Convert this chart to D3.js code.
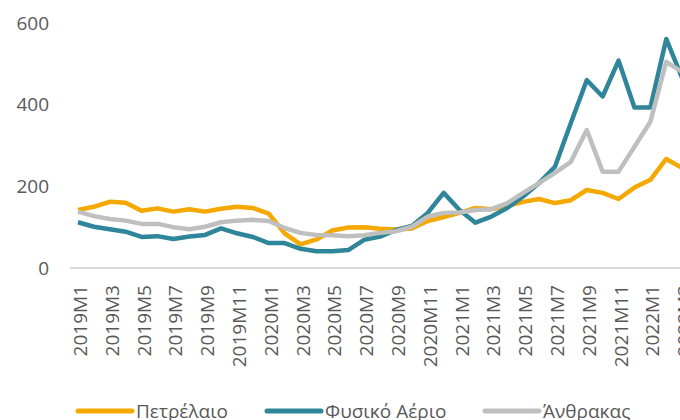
<html>
<head>
    <script src="https://d3js.org/d3.v7.min.js"></script>
    <style>
        html,body{
            margin: 0px;
            padding: 0px;
            background-color: #ffffff;
        }
        svg { display: block; }
        text {
            font-family: "Open Sans", sans-serif;
            fill: #595959;
        }
    </style>
</head>
<body>
    <div id="chart"></div>
    <script>
        // monthly periods 2019M1 .. 2022M3
        const months = [];
        for (let y = 2019; y <= 2022; y++) {
            for (let m = 1; m <= 12; m++) {
                if (y === 2022 && m > 3) break;
                months.push(y + "M" + m);
            }
        }
        const yTicks = [0, 200, 400, 600];

        const oil = [142, 150, 162, 160, 140, 146, 138, 144, 138, 145, 150, 147,
                     133, 85, 58, 70, 92, 99, 100, 96, 94, 97, 115, 125,
                     135, 147, 144, 152, 162, 169, 159, 166, 191, 184, 169, 197,
                     216, 267, 245];
        const gas = [112, 101, 95, 89, 76, 78, 71, 77, 81, 97, 85, 76,
                     61, 61, 47, 41, 41, 44, 69, 77, 93, 103, 135, 184,
                     142, 111, 126, 147, 175, 208, 248, 355, 460, 420, 508, 393,
                     393, 561, 465];
        const coal = [138, 127, 120, 116, 108, 108, 100, 95, 101, 112, 116, 118,
                      115, 98, 86, 81, 80, 78, 80, 86, 90, 101, 126, 135,
                      136, 142, 144, 159, 184, 208, 233, 260, 338, 236, 236, 297,
                      358, 505, 480];

        const series = [
            { name: "Πετρέλαιο", values: oil, color: "#F5A800" },
            { name: "Φυσικό Αέριο", values: gas, color: "#2F8599" },
            { name: "Άνθρακας", values: coal, color: "#BFBFBF" }
        ];

        const W = 680, H = 420;
        const svg = d3.select("#chart")
            .append("svg")
                .attr("width", W)
                .attr("height", H);

        const x = d3.scaleBand()
            .domain(months)
            .range([70, 70 + months.length * 15.9])
            .paddingInner(0).paddingOuter(0);
        const cx = function(d) { return x(d) + x.bandwidth() / 2; };

        const y = d3.scaleLinear()
            .domain([0, 600])
            .range([268, 23]);

        // Y axis labels only
        svg.append("g")
            .attr("transform", "translate(49,0)")
            .call(d3.axisLeft(y).tickValues(yTicks).tickSize(0).tickPadding(0))
            .call(g => g.select(".domain").remove())
            .selectAll("text")
                .attr("font-size", 19)
                .attr("font-family", "Open Sans, sans-serif")
                .attr("fill", "#595959");

        // baseline
        svg.append("line")
            .attr("x1", 70).attr("x2", W)
            .attr("y1", y(0)).attr("y2", y(0))
            .attr("stroke", "#D9D9D9")
            .attr("stroke-width", 2);

        // X axis labels, every other month
        const xAxis = svg.append("g")
            .attr("transform", "translate(0,285)")
            .call(d3.axisBottom(x)
                .tickValues(months.filter((d, i) => i % 2 === 0))
                .tickSize(0).tickPadding(0));
        xAxis.select(".domain").remove();
        xAxis.selectAll("text")
            .attr("font-size", 19)
            .attr("font-family", "Open Sans, sans-serif")
            .attr("fill", "#595959")
            .attr("text-anchor", "end")
            .attr("dominant-baseline", "central")
            .attr("dy", null)
            .attr("y", 0)
            .attr("transform", "rotate(-90)")
            .attr("x", 0)
            .each(function(d) {
                d3.select(this).attr("transform", "translate(" + (cx(d) - x(d) - x.bandwidth() / 2 + 2) + ",0) rotate(-90)");
            });

        // Lines
        const line = d3.line()
            .x(function(d, i) { return cx(months[i]); })
            .y(function(d) { return y(d); });

        svg.append("g")
            .selectAll("path")
            .data(series)
            .enter()
            .append("path")
                .attr("fill", "none")
                .attr("stroke", d => d.color)
                .attr("stroke-width", 4.5)
                .attr("stroke-linejoin", "round")
                .attr("d", d => line(d.values));

        // Legend
        const legendX = [78, 267, 485];
        const leg = svg.append("g")
            .selectAll("g")
            .data(series)
            .enter()
            .append("g")
                .attr("transform", (d, i) => "translate(" + legendX[i] + ",411)");
        leg.append("line")
            .attr("x1", 0).attr("x2", 54)
            .attr("y1", 0).attr("y2", 0)
            .attr("stroke", d => d.color)
            .attr("stroke-width", 5)
            .attr("stroke-linecap", "round");
        leg.append("text")
            .attr("x", 58)
            .attr("y", 0)
            .attr("dominant-baseline", "central")
            .attr("font-size", 19)
            .text(d => d.name);
    </script>
</body>
</html>
